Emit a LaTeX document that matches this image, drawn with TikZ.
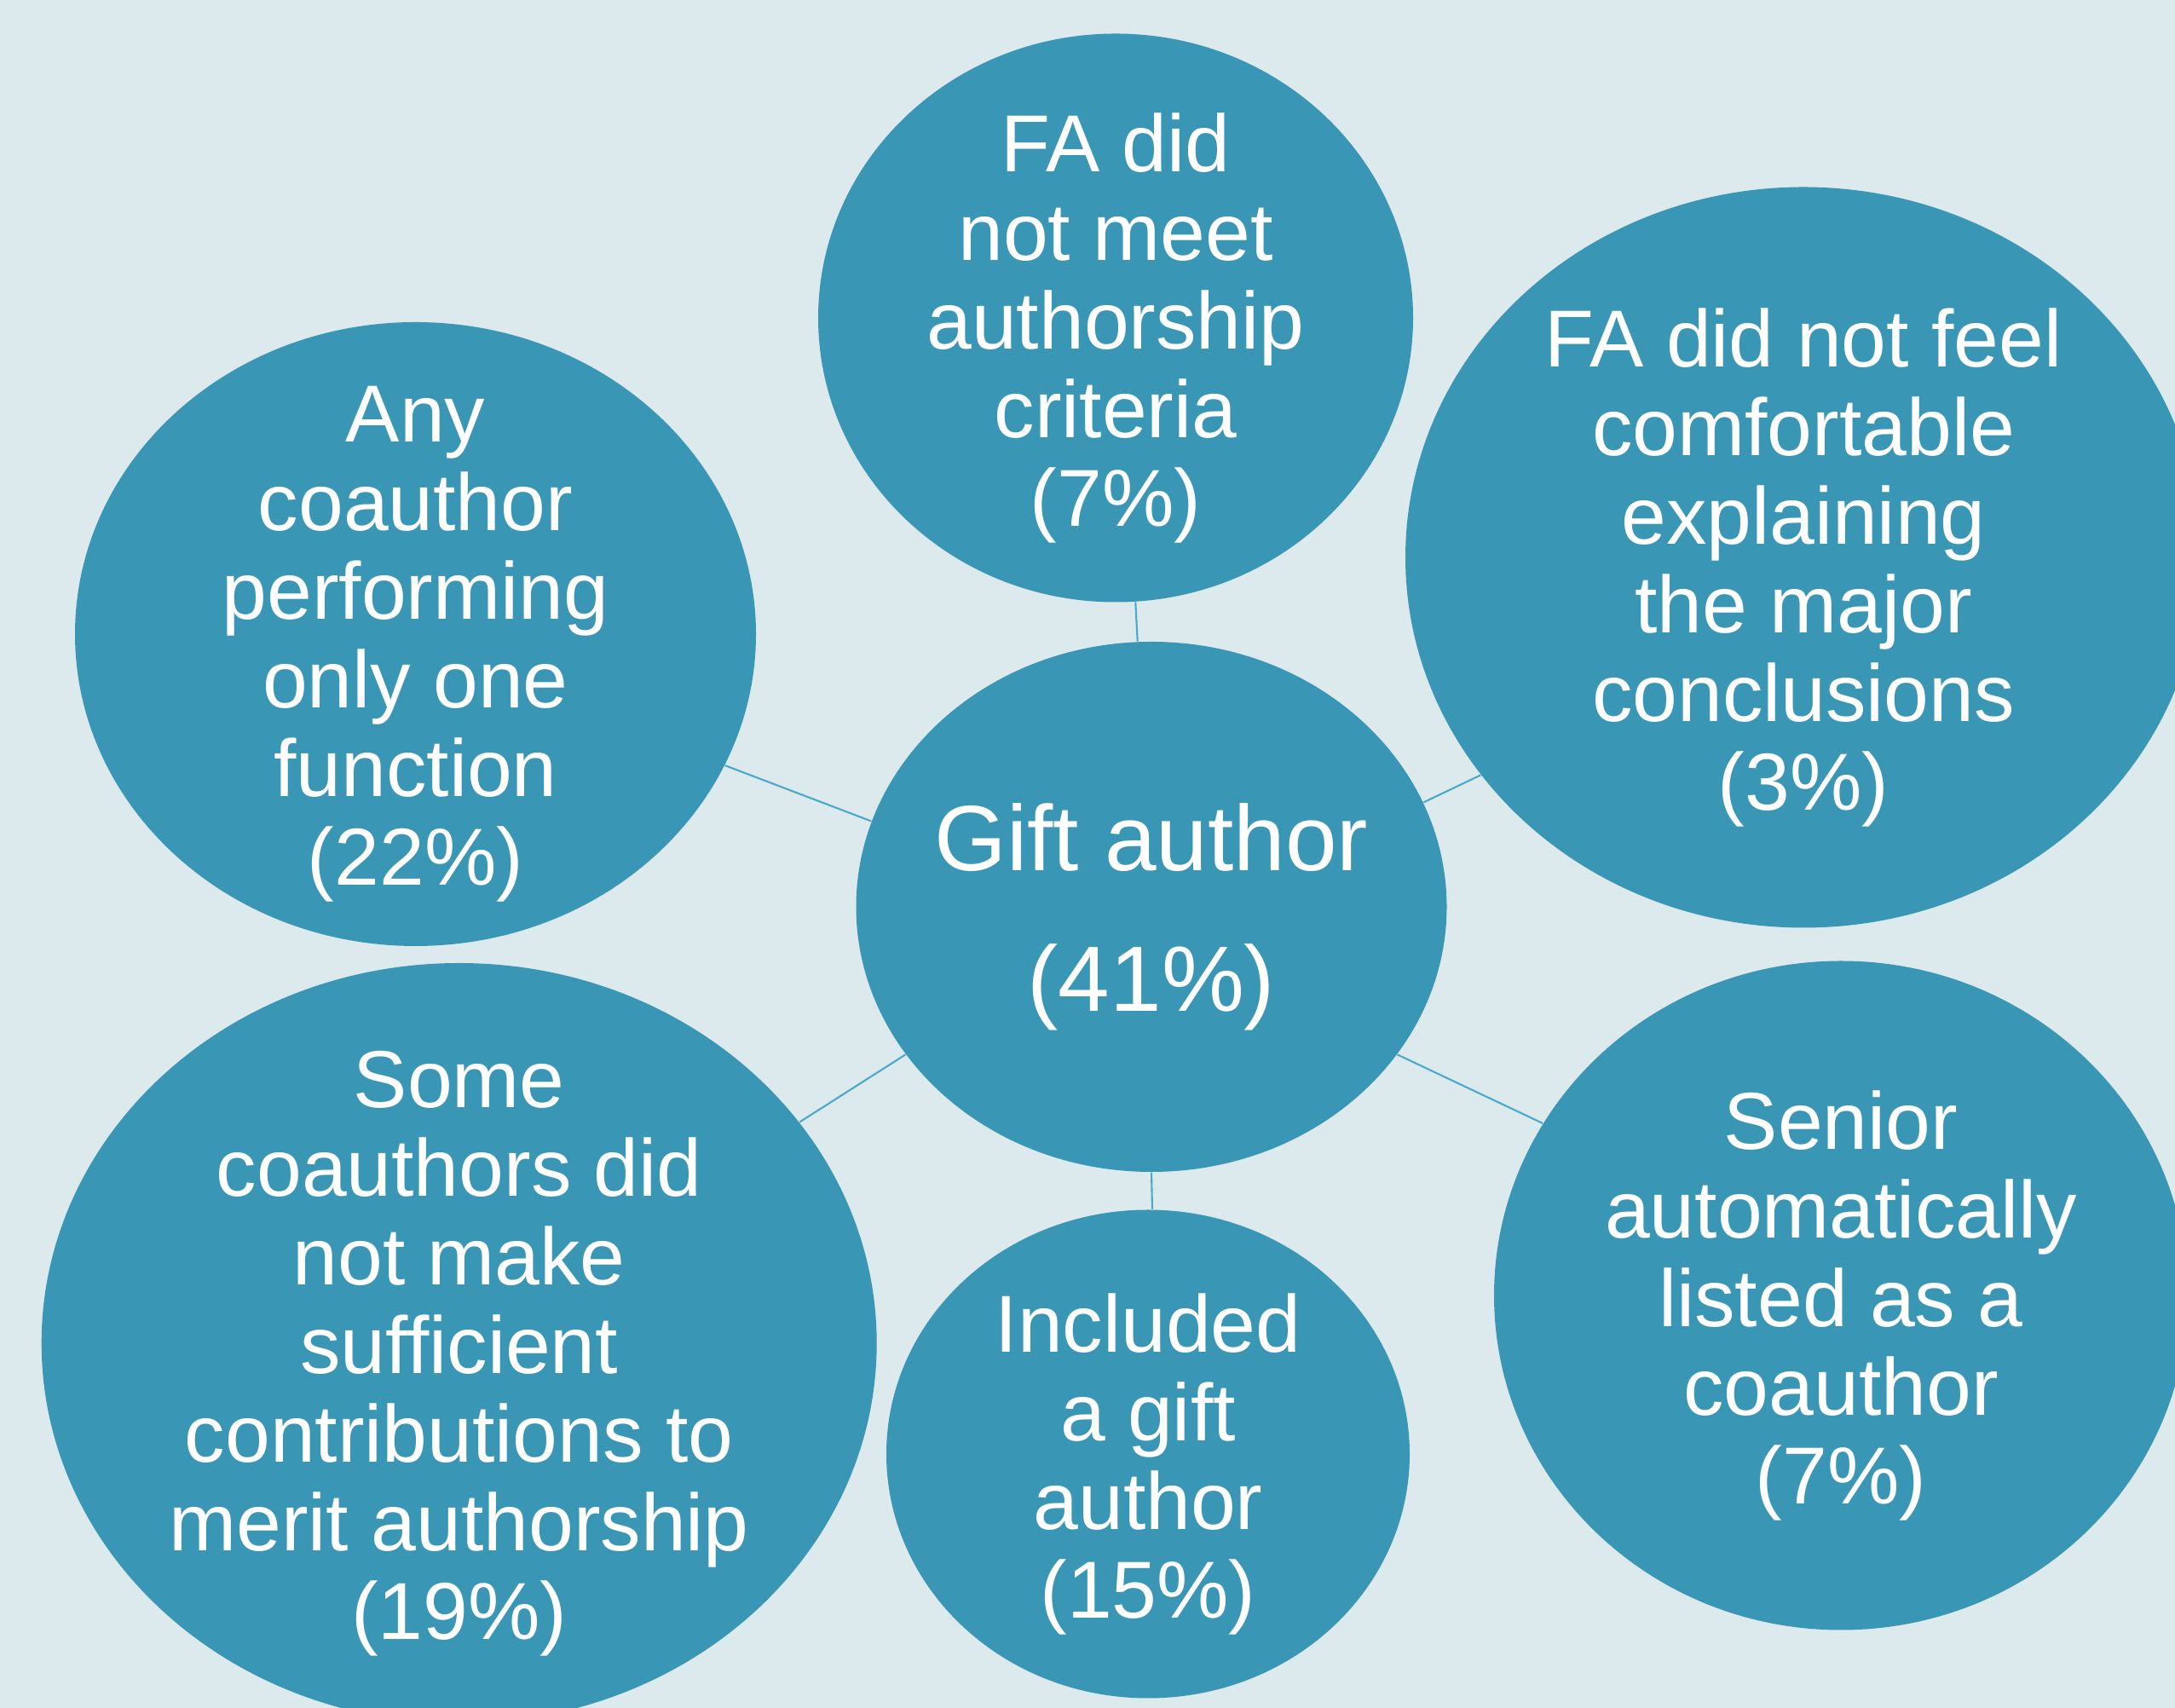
\documentclass[tikz,border=0pt]{standalone}
\usepackage{fontspec}
\setmainfont{Liberation Sans}
\usetikzlibrary{shapes.geometric}
\definecolor{bgblue}{HTML}{DCEAEE}
\definecolor{bubbleblue}{HTML}{3A96B5}
\definecolor{linkblue}{HTML}{4AA8CB}

\begin{document}
\begin{tikzpicture}
\tikzset{bubble/.style={ellipse, fill=bubbleblue, inner sep=0pt},
txt/.style={align=center, text=white, yshift=-0.12cm, font=\fontsize{27}{29.6}\selectfont},
link/.style={draw=linkblue, line width=0.6pt}};

\clip (0,0) rectangle (25.52,20.04);
\fill[bgblue] (0,0) rectangle (25.52,20.04);

\node[bubble, minimum width=6.93cm, minimum height=6.22cm] (gift) at (13.51,9.40) {};
\node[bubble, minimum width=6.98cm, minimum height=6.67cm] (criteria) at (13.09,16.31) {};
\node[bubble, minimum width=7.99cm, minimum height=7.32cm] (function) at (4.875,12.60) {};
\node[bubble, minimum width=9.34cm, minimum height=8.69cm] (comfortable) at (21.16,13.50) {};
\node[bubble, minimum width=9.80cm, minimum height=8.92cm] (sufficient) at (5.387,4.28) {};
\node[bubble, minimum width=6.14cm, minimum height=5.73cm] (included) at (13.47,2.98) {};
\node[bubble, minimum width=8.14cm, minimum height=7.85cm] (senior) at (21.60,4.84) {};

\node[txt, font=\fontsize{31}{47}\selectfont] (gift-t) at (gift) {Gift author\\(41\%)};
\node[txt] (criteria-t) at (criteria) {FA did\\not meet\\authorship\\criteria\\(7\%)};
\node[txt] (function-t) at (function) {Any\\coauthor\\performing\\only one\\function\\(22\%)};
\node[txt] (comfortable-t) at (comfortable) {FA did not feel\\comfortable\\explaining\\the major\\conclusions\\(3\%)};
\node[txt] (sufficient-t) at (sufficient) {Some\\coauthors did\\not make\\sufficient\\contributions to\\merit authorship\\(19\%)};
\node[txt] (included-t) at (included) {Included\\a gift\\author\\(15\%)};
\node[txt] (senior-t) at (senior) {Senior\\automatically\\listed as a\\coauthor\\(7\%)};

\foreach \x/\a/\b in {criteria/93/274, function/163.2/337.1, comfortable/21.3/214.1,
	sufficient/211.7/33.6, included/270.3/89.2, senior/329.5/150} {
	\draw[link] (gift.\a) -- (\x.\b);
}

\end{tikzpicture}
\end{document}
